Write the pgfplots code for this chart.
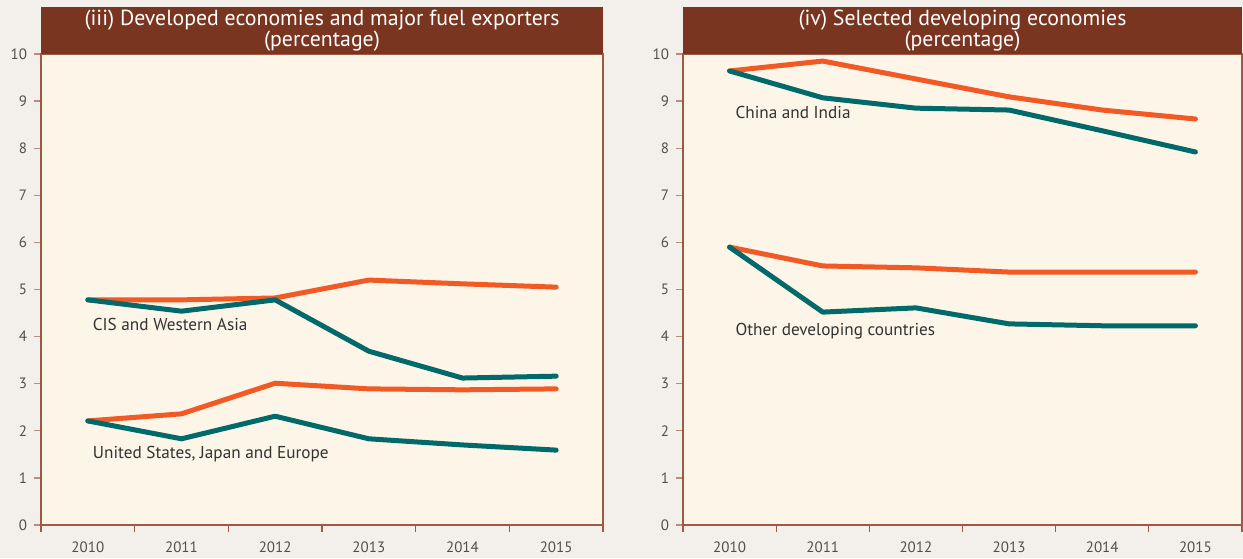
\documentclass[border=0pt]{standalone}
\usepackage{pgfplots}
\pgfplotsset{compat=1.18}
\usepackage{fontspec}
\setmainfont{PT Sans}
\definecolor{orangeL}{HTML}{F15A24}
\definecolor{tealL}{HTML}{006A6B}
\definecolor{banner}{HTML}{7A3521}
\definecolor{cream}{HTML}{FCF5E8}
\definecolor{pagebg}{HTML}{F3EFEB}
\definecolor{axbrown}{HTML}{9E5A44}
\definecolor{ticktext}{HTML}{505050}
\pgfplotsset{
 panel/.style={
  scale only axis, height=235.5pt,
  xmin=-0.5, xmax=5.5, ymin=0, ymax=10,
  axis line style={axbrown, line width=0.8pt},
  axis background/.style={fill=cream},
  xtick={0,...,5}, xticklabels={2010,2011,2012,2013,2014,2015},
  minor xtick={-0.5,0.5,...,5.5},
  ytick={0,...,10},
  tick align=outside,
  major tick length=3.5pt, minor tick length=3.5pt,
  major x tick style={draw=none},
  minor tick style={axbrown, line width=0.6pt},
  ytick style={axbrown!70, line width=0.6pt},
  tick label style={font=\fontsize{7.5}{9}\selectfont, text=ticktext},
  /pgf/number format/assume math mode=true,
  xticklabel style={yshift=-1.2pt},
  tick pos=left,
  clip=false,
  every axis plot/.append style={line width=2.5pt, line join=round, line cap=round},
 }
}
\begin{document}
\begin{tikzpicture}
\path[use as bounding box, fill=pagebg] (-20.5pt,-16.5pt) rectangle (601pt,262.5pt);
\begin{axis}[panel, width=281pt, name=ax1, at={(0pt,0pt)}]
\addplot[orangeL] coordinates {(0,4.78) (1,4.78) (2,4.82) (3,5.20) (4,5.12) (5,5.05)};
\addplot[tealL] coordinates {(0,4.78) (1,4.54) (2,4.78) (3,3.69) (4,3.12) (5,3.16)};
\addplot[orangeL] coordinates {(0,2.21) (1,2.36) (2,3.01) (3,2.89) (4,2.87) (5,2.89)};
\addplot[tealL] coordinates {(0,2.21) (1,1.83) (2,2.31) (3,1.83) (4,1.70) (5,1.59)};
\node[anchor=west, text=black!80, font=\fontsize{8.6}{10}\selectfont, inner sep=0pt] at (axis cs:0.05,4.25) {CIS and Western Asia};
\node[anchor=west, text=black!80, font=\fontsize{8.6}{10}\selectfont, inner sep=0pt] at (axis cs:0.05,1.51) {United States, Japan and Europe};
\end{axis}
\begin{axis}[panel, width=279.5pt, name=ax2, at={(321pt,0pt)}]
\addplot[orangeL] coordinates {(0,9.64) (1,9.85) (2,9.47) (3,9.09) (4,8.81) (5,8.62)};
\addplot[tealL] coordinates {(0,9.64) (1,9.07) (2,8.85) (3,8.81) (4,8.37) (5,7.92)};
\addplot[orangeL] coordinates {(0,5.90) (1,5.50) (2,5.46) (3,5.37) (4,5.37) (5,5.37)};
\addplot[tealL] coordinates {(0,5.90) (1,4.52) (2,4.61) (3,4.27) (4,4.23) (5,4.23)};
\node[anchor=west, text=black!80, font=\fontsize{8.6}{10}\selectfont, inner sep=0pt] at (axis cs:0.06,8.75) {China and India};
\node[anchor=west, text=black!80, font=\fontsize{8.6}{10}\selectfont, inner sep=0pt] at (axis cs:0.06,4.12) {Other developing countries};
\end{axis}
\fill[banner] (ax1.north west) rectangle ([yshift=23.5pt]ax1.north east);
\fill[banner] (ax2.north west) rectangle ([yshift=23.5pt]ax2.north east);
\node[text=white, align=center, font=\fontsize{10.9}{10.5}\selectfont, inner sep=0pt] at ([yshift=11.8pt]ax1.north) {(iii) Developed economies and major fuel exporters\\(percentage)};
\node[text=white, align=center, font=\fontsize{10.9}{10.5}\selectfont, inner sep=0pt] at ([yshift=11.8pt]ax2.north) {(iv) Selected developing economies\\(percentage)};
\end{tikzpicture}
\end{document}
